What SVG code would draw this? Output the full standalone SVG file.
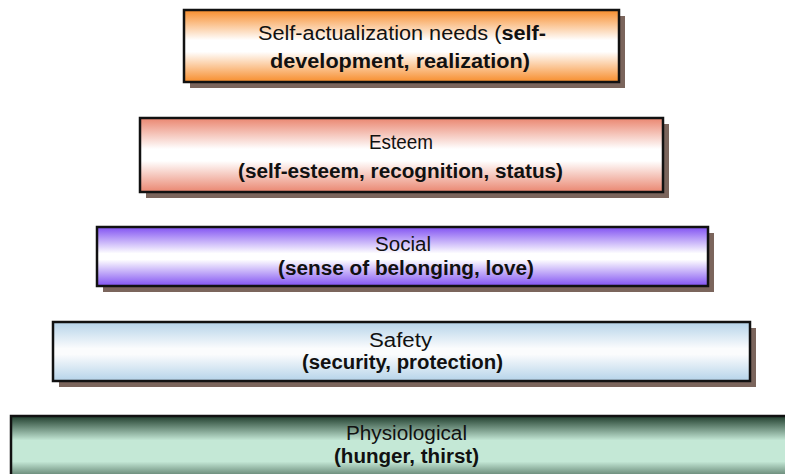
<svg xmlns="http://www.w3.org/2000/svg" width="785" height="474" viewBox="0 0 785 474">
  <defs>
    <linearGradient id="gOrange" x1="0" y1="0" x2="0" y2="1">
      <stop offset="0" stop-color="#f78d2c"/>
      <stop offset="0.42" stop-color="#ffffff"/>
      <stop offset="0.58" stop-color="#ffffff"/>
      <stop offset="1" stop-color="#f78d2c"/>
    </linearGradient>
    <linearGradient id="gSalmon" x1="0" y1="0" x2="0" y2="1">
      <stop offset="0" stop-color="#ea8670"/>
      <stop offset="0.42" stop-color="#ffffff"/>
      <stop offset="0.58" stop-color="#ffffff"/>
      <stop offset="1" stop-color="#ea8670"/>
    </linearGradient>
    <linearGradient id="gViolet" x1="0" y1="0" x2="0" y2="1">
      <stop offset="0" stop-color="#8152f2"/>
      <stop offset="0.45" stop-color="#ffffff"/>
      <stop offset="0.55" stop-color="#ffffff"/>
      <stop offset="1" stop-color="#8152f2"/>
    </linearGradient>
    <linearGradient id="gBlue" x1="0" y1="0" x2="0" y2="1">
      <stop offset="0" stop-color="#b5d3e9"/>
      <stop offset="0.45" stop-color="#fbfcfd"/>
      <stop offset="0.55" stop-color="#fbfcfd"/>
      <stop offset="1" stop-color="#b5d3e9"/>
    </linearGradient>
    <linearGradient id="gGreen" x1="0" y1="0" x2="0" y2="1">
      <stop offset="0" stop-color="#1f3d2c"/>
      <stop offset="0.35" stop-color="#c4e8d6"/>
      <stop offset="0.65" stop-color="#c4e8d6"/>
      <stop offset="1" stop-color="#1f3d2c"/>
    </linearGradient>
    <style>
      .shadow { fill: #7b655c; }
      .box { stroke: #111111; stroke-width: 2.5; }
      .t { font-family: "Liberation Sans", Arial, sans-serif; font-size: 20px; fill: #111111; text-anchor: middle; }
      .b { font-weight: bold; }
    </style>
  </defs>

  <rect width="785" height="474" fill="#ffffff"/>

  <g id="self-actualization">
    <rect class="shadow" x="190" y="16" width="435" height="72"/>
    <rect class="box" x="184" y="10" width="435" height="72" fill="url(#gOrange)"/>
    <text class="t" x="402" y="40" textLength="288" lengthAdjust="spacingAndGlyphs">Self-actualization needs (<tspan class="b">self-</tspan></text>
    <text class="t b" x="400" y="68" textLength="260" lengthAdjust="spacingAndGlyphs">development, realization)</text>
  </g>

  <g id="esteem">
    <rect class="shadow" x="146" y="124" width="523" height="74"/>
    <rect class="box" x="140" y="118" width="523" height="74" fill="url(#gSalmon)"/>
    <text class="t" x="401" y="149" textLength="64" lengthAdjust="spacingAndGlyphs">Esteem</text>
    <text class="t b" x="400.5" y="178" textLength="325" lengthAdjust="spacingAndGlyphs">(self-esteem, recognition, status)</text>
  </g>

  <g id="social">
    <rect class="shadow" x="103" y="233" width="611" height="59"/>
    <rect class="box" x="97" y="227" width="611" height="59" fill="url(#gViolet)"/>
    <text class="t" x="403" y="251" textLength="56" lengthAdjust="spacingAndGlyphs">Social</text>
    <text class="t b" x="406" y="275" textLength="256" lengthAdjust="spacingAndGlyphs">(sense of belonging, love)</text>
  </g>

  <g id="safety">
    <rect class="shadow" x="59" y="328" width="697" height="59"/>
    <rect class="box" x="53" y="322" width="697" height="59" fill="url(#gBlue)"/>
    <text class="t" x="400.5" y="347" textLength="63" lengthAdjust="spacingAndGlyphs">Safety</text>
    <text class="t b" x="402.5" y="369" textLength="201" lengthAdjust="spacingAndGlyphs">(security, protection)</text>
  </g>

  <g id="physiological">
    <rect class="box" x="11" y="416" width="790" height="70" fill="url(#gGreen)"/>
    <text class="t" x="406.5" y="440" textLength="121" lengthAdjust="spacingAndGlyphs">Physiological</text>
    <text class="t b" x="406.5" y="463" textLength="145" lengthAdjust="spacingAndGlyphs">(hunger, thirst)</text>
  </g>

  <g id="connectors"/>
</svg>
